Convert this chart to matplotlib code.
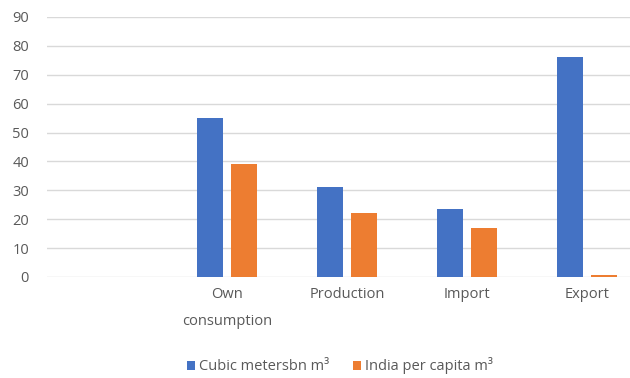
import matplotlib
matplotlib.use("Agg")
import matplotlib.pyplot as plt
import numpy as np

categories = ["", "Own\nconsumption", "Production", "Import", "Export"]
cubic_meters = [np.nan, 55, 31, 23.5, 76]
india_per_capita = [np.nan, 39, 22, 17, 0.6]
series_names = ["Cubic metersbn m³", "India per capita m³"]
yticks = [0, 10, 20, 30, 40, 50, 60, 70, 80, 90]

plt.rcParams['font.family'] = ['Open Sans', 'DejaVu Sans']

fig = plt.figure(figsize=6.3 * np.array([1, 0.6]), dpi=100)
ax = fig.add_axes([47 / 630, (378 - 277) / 378, 600 / 630, 260 / 378])

x = np.arange(len(categories))
w = 0.22
off = 0.142
blue = "#4472C4"
orange = "#ED7D31"
ax.bar(x - off, cubic_meters, w, color=blue, label=series_names[0], zorder=3)
ax.bar(x + off, india_per_capita, w, color=orange, label=series_names[1], zorder=3)

ax.set_xlim(-0.5, len(categories) - 0.5)
ax.set_ylim(0, 90)
ax.set_yticks(yticks)
ax.set_xticks(x)
ax.set_xticklabels(categories, fontsize=10.5, color="#595959", linespacing=2.1)
ax.tick_params(axis="y", labelsize=10.5, labelcolor="#595959", length=0, pad=13)
ax.tick_params(axis="x", length=0, pad=7)
ax.grid(axis="y", color="#D9D9D9", linewidth=1, zorder=0)
for s in ax.spines.values():
    s.set_visible(False)

fig.legend(loc="center", bbox_to_anchor=(340 / 630, 12 / 378), ncol=2, frameon=False,
           fontsize=10.5, handlelength=0.55, handleheight=0.6, handletextpad=0.3,
           columnspacing=1.6, labelcolor="#595959")

fig.savefig("out.png", dpi=100)
